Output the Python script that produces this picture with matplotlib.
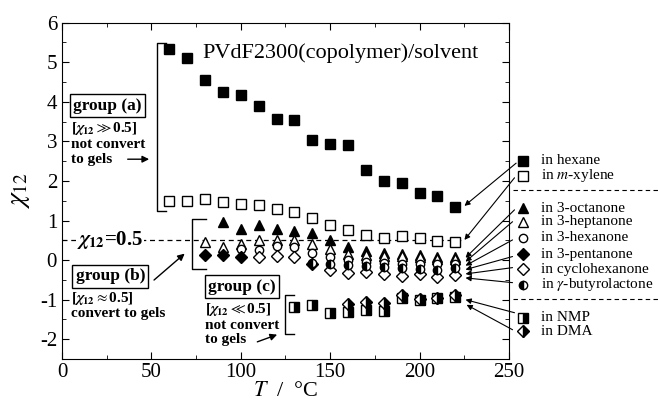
import matplotlib
matplotlib.use("Agg")
import matplotlib.pyplot as plt
from matplotlib.ticker import MultipleLocator

plt.rcParams["font.family"] = ["Liberation Serif", "DejaVu Serif"]
plt.rcParams["mathtext.fontset"] = "stix"

# chi12 data, temperature in degC
t_hexane = [60, 70, 80, 90, 100, 110, 120, 130, 140, 150, 160, 170, 180, 190, 200, 210, 220]
hexane = [5.34, 5.10, 4.55, 4.24, 4.16, 3.89, 3.56, 3.54, 3.03, 2.93, 2.92, 2.28, 1.99, 1.96, 1.69, 1.62, 1.34]
t_xylene = [60, 70, 80, 90, 100, 110, 120, 130, 140, 150, 160, 170, 180, 190, 200, 210, 220]
xylene = [1.50, 1.50, 1.55, 1.48, 1.42, 1.39, 1.29, 1.21, 1.06, 0.89, 0.77, 0.64, 0.57, 0.60, 0.56, 0.49, 0.47]

t_octanone = [90, 100, 110, 120, 130, 140, 150, 160, 170, 180, 190, 200, 210, 220]
octanone = [0.97, 0.78, 0.88, 0.79, 0.73, 0.68, 0.51, 0.34, 0.24, 0.18, 0.16, 0.12, 0.09, 0.07]
t_heptanone = [80, 90, 100, 110, 120, 130, 140, 150, 160, 170, 180, 190, 200, 210, 220]
heptanone = [0.47, 0.33, 0.40, 0.50, 0.50, 0.51, 0.41, 0.29, 0.16, 0.12, 0.10, 0.10, 0.07, 0.02, 0.02]
t_hexanone = [100, 110, 120, 130, 140, 150, 160, 170, 180, 190, 200, 210, 220]
hexanone = [0.27, 0.25, 0.35, 0.34, 0.18, 0.07, 0.00, -0.05, -0.08, -0.09, -0.10, -0.11, -0.10]
t_pentanone = [80, 90, 100, 140]
pentanone = [0.14, 0.13, 0.09, -0.10]
t_cyclo = [110, 120, 130, 150, 160, 170, 180, 190, 200, 210, 220]
cyclo = [0.08, 0.11, 0.08, -0.24, -0.32, -0.29, -0.35, -0.40, -0.36, -0.43, -0.37]
t_butyro = [140, 150, 160, 170, 180, 190, 200, 210, 220]
butyro = [-0.07, -0.10, -0.13, -0.15, -0.18, -0.19, -0.23, -0.25, -0.19]

t_nmp = [130, 140, 150, 160, 170, 180, 190, 200, 210, 220]
nmp = [-1.18, -1.14, -1.33, -1.30, -1.25, -1.28, -0.95, -1.02, -0.97, -0.93]
t_dma = [160, 170, 180, 190, 200, 210, 220]
dma = [-1.12, -1.06, -1.08, -0.88, -0.98, -0.95, -0.88]

fig = plt.figure(figsize=(6.58, 4.01), dpi=100)
ax = fig.add_axes([0.0942, 0.1047, 0.6793, 0.8387])

k = dict(color="black", linestyle="none", markeredgewidth=1.0, zorder=3)
series = [
    (t_hexane, hexane, dict(marker="s", ms=7, mfc="black")),
    (t_xylene, xylene, dict(marker="s", ms=6.5, mfc="white")),
    (t_octanone, octanone, dict(marker="^", ms=7, mfc="black")),
    (t_heptanone, heptanone, dict(marker="^", ms=6.5, mfc="white")),
    (t_hexanone, hexanone, dict(marker="o", ms=6, mfc="white")),
    (t_pentanone, pentanone, dict(marker="D", ms=6.5, mfc="black")),
    (t_cyclo, cyclo, dict(marker="D", ms=6.5, mfc="white")),
    (t_butyro, butyro, dict(marker="o", ms=6, mfc="black", fillstyle="left", mfcalt="white")),
    (t_nmp, nmp, dict(marker="s", ms=6.5, mfc="black", fillstyle="right", mfcalt="white")),
    (t_dma, dma, dict(marker="D", ms=6.5, mfc="black", fillstyle="right", mfcalt="white")),
]
for t, v, st in series:
    ax.plot(t, v, **k, **st)

ax.set_xlim(0, 250)
ax.set_ylim(-2.5, 6)
ax.xaxis.set_major_locator(MultipleLocator(50))
ax.xaxis.set_minor_locator(MultipleLocator(25))
ax.yaxis.set_major_locator(MultipleLocator(1))
ax.yaxis.set_minor_locator(MultipleLocator(0.5))
ax.tick_params(which="both", direction="in", top=True, right=True, labelsize=15)
ax.tick_params(which="major", length=5)
ax.tick_params(which="minor", length=3)
ax.tick_params(axis="x", pad=3)
ax.set_yticks([-2, -1, 0, 1, 2, 3, 4, 5, 6])
ax.set_yticklabels(["-2", "-1", "0", "1", "2", "3", "4", "5", "6"])
ax.set_xlabel(r"$T$  /  °C", fontsize=16, labelpad=0)
ax.set_ylabel(r"$\chi_{12}$", fontsize=20, labelpad=6)

# chi12 = 0.5 line
ax.plot([0, 225], [0.5, 0.5], color="black", lw=0.9, ls=(0, (4, 3)), zorder=1)
ax.text(26.8, 0.5, r"$\mathbfit{\chi}_{\mathbf{12}}$=0.5", fontsize=15, fontweight="bold",
        ha="center", va="center", bbox=dict(fc="white", ec="none", pad=0.5), zorder=2)

ax.text(78.8, 5.23, "PVdF2300(copolymer)/solvent", fontsize=16, ha="left", va="center")

# brackets
lk = dict(color="black", lw=1.0, clip_on=False)
ax.plot([58, 53, 53, 58], [5.49, 5.49, 1.25, 1.25], **lk)
ax.plot([80.5, 72.5, 72.5, 80.5], [1.04, 1.04, -0.22, -0.22], **lk)
ax.plot([130, 124.6, 124.6, 130], [-0.87, -0.87, -1.86, -1.86], **lk)

box = dict(boxstyle="square,pad=0.2", fc="white", ec="black", lw=1.0)
bt = dict(fontsize=11, fontweight="bold", ha="left", va="center")
arr = dict(arrowstyle="-|>", color="black", lw=1.0, mutation_scale=10)

ax.text(25.4, 3.90, "group (a)", fontsize=12.5, fontweight="bold", ha="center", va="center", bbox=box)
ax.text(5, 3.32, r"[$\mathbfit{\chi}_{\mathbf{12}}\gg$0.5]", **bt)
ax.text(5, 2.93, "not convert", **bt)
ax.text(5, 2.55, "to gels", **bt)
ax.annotate("", xy=(50.3, 2.55), xytext=(35.2, 2.55), arrowprops=arr)

ax.text(27, -0.41, "group (b)", fontsize=12.5, fontweight="bold", ha="center", va="center", bbox=box)
ax.text(5, -0.96, r"[$\mathbfit{\chi}_{\mathbf{12}}\approx$0.5]", **bt)
ax.text(5, -1.34, "convert to gels", **bt)
ax.annotate("", xy=(69.8, 0.21), xytext=(50.3, -0.55), arrowprops=arr)

ax.text(100.8, -0.67, "group (c)", fontsize=12.5, fontweight="bold", ha="center", va="center", bbox=box)
ax.text(80, -1.25, r"[$\mathbfit{\chi}_{\mathbf{12}}\ll$0.5]", **bt)
ax.text(80, -1.66, "not convert", **bt)
ax.text(80, -2.0, "to gels", **bt)
ax.annotate("", xy=(121.8, -1.86), xytext=(107.8, -2.09), arrowprops=arr)

# right-hand key with pointer lines
names = ["in hexane", "in $m$-xylene", "in 3-octanone", "in 3-heptanone", "in 3-hexanone",
         "in 3-pentanone", "in cyclohexanone", r"in $\gamma$-butyrolactone", "in NMP", "in DMA"]
key_y = [2.51, 2.13, 1.31, 0.97, 0.56, 0.15, -0.23, -0.62, -1.46, -1.80]
line_start = [(254.0, 2.45), (253.1, 2.08), (253.1, 1.27), (252.0, 0.97), (252.0, 0.51),
              (252.0, 0.09), (252.0, -0.19), (252.0, -0.57), (253.1, -1.33), (252.0, -1.76)]
line_tip = [(225.1, 1.37), (225.1, 0.51), (225.7, 0.06), (225.7, -0.04), (225.7, -0.14),
            (225.7, -0.24), (225.7, -0.35), (225.7, -0.45), (225.7, -1.00), (226.3, -1.13)]
for (t, v, st), name, y, s, e in zip(series, names, key_y, line_start, line_tip):
    ax.plot([258.1], [y], clip_on=False, **k, **st)
    ax.text(268, y, name, fontsize=11, ha="left", va="center", clip_on=False)
    ax.annotate("", xy=e, xytext=s, annotation_clip=False,
                arrowprops=dict(arrowstyle="-|>", color="black", lw=0.8, mutation_scale=8,
                                shrinkA=0, shrinkB=0))

for y in [1.78, -0.98]:
    ax.plot([252, 335], [y, y], color="black", lw=0.8, ls=(0, (4, 3)), clip_on=False)

fig.savefig("out.png", dpi=100)
